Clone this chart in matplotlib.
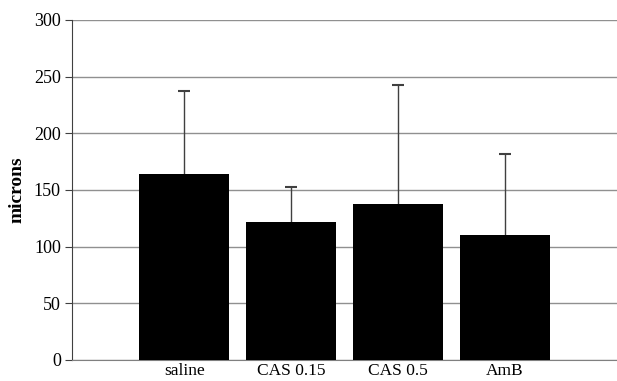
import numpy as np
import matplotlib.pyplot as plt

categories = ["saline", "CAS 0.15", "CAS 0.5", "AmB"]
means = [164, 121.5, 137.5, 110]
upper_err = [73, 31.5, 105, 72]

plt.rcParams['font.family'] = ['Liberation Serif', 'DejaVu Serif']

fig = plt.figure(figsize=(6.17, 3.81), dpi=100)
ax = fig.add_axes([72 / 617, 21 / 381, 545 / 617, 340 / 381])

x = np.arange(len(categories))
ax.bar(x, means, width=0.84, color='black', zorder=3)
_, caps, _ = ax.errorbar(x, means, yerr=[np.zeros(len(x)), upper_err], fmt='none',
                         ecolor='#404040', elinewidth=1, capsize=4, capthick=1.5, zorder=2)
# only the upper cap is wanted
caps[0].set_visible(False)

ax.set_ylim(0, 300)
ax.set_xlim(-1.05, 4.05)
ax.set_yticks(np.arange(0, 301, 50))
ax.yaxis.grid(True, color='#909090', linewidth=1)
ax.set_axisbelow(True)

ax.set_xticks(x)
ax.set_xticklabels(categories, fontsize=12.5)
ax.tick_params(axis='x', length=0, pad=2)
ax.tick_params(axis='y', length=5, color='#404040', labelsize=13, pad=3)

for s in ['top', 'right']:
    ax.spines[s].set_visible(False)
ax.spines['left'].set_color('#404040')
ax.spines['bottom'].set_color('#808080')

ax.set_ylabel('microns', fontsize=14, fontweight='bold', labelpad=6)

fig.savefig('out.png', dpi=100)
